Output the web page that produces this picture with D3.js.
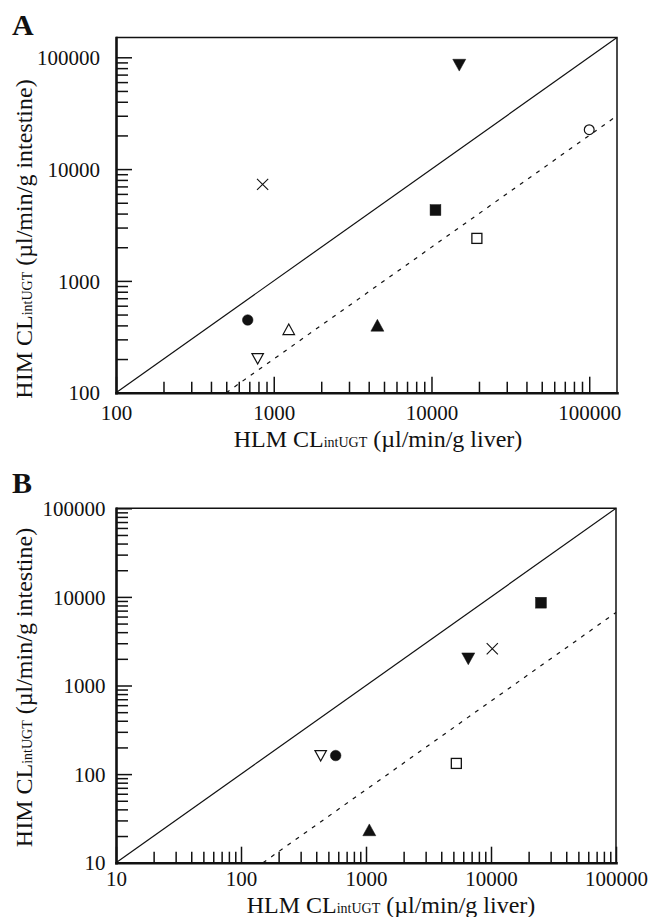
<!DOCTYPE html>
<html lang="en">
<head>
<meta charset="UTF-8">
<script src="https://d3js.org/d3.v7.min.js"></script>
<style>
  body { margin: 0; background: #fff; }
  svg { display: block; font-family: "Liberation Serif", "Times New Roman", serif; }
  .tick text { font-size: 21px; fill: #111; font-family: "Liberation Serif", serif; }
  .title { font-size: 24px; fill: #111; }
  .sub { font-size: 14px; }
  .letter { font-size: 30px; font-weight: bold; fill: #111; }
</style>
</head>
<body>
<div id="chart"></div>
<script>
// Panel A: HLM vs HIM CLint,UGT
const shapesA = ["cross", "triDownFilled", "circleOpen", "squareFilled", "squareOpen", "triUpFilled", "circleFilled", "triUpOpen", "triDownOpen"];
const hlmA = [850, 15000, 100000, 10600, 19400, 4540, 684, 1245, 791];
const himA = [7300, 85000, 22500, 4300, 2400, 401, 447, 369, 201];
const ticksA = [100, 1000, 10000, 100000];
const dashRatioA = 1 / 5;

// Panel B
const shapesB = ["squareFilled", "triDownFilled", "cross", "triDownOpen", "circleFilled", "squareOpen", "triUpFilled"];
const hlmB = [25100, 6580, 10240, 434, 572, 5280, 1063];
const himB = [8600, 2000, 2600, 161, 162, 132, 23.5];
const ticksB = [10, 100, 1000, 10000, 100000];
const dashRatioB = 1 / 15;

const panels = [
  { name: "A", shapes: shapesA, hlm: hlmA, him: himA, ticks: ticksA, ratio: dashRatioA,
    domain: [100, 150000], left: 116, right: 617, top: 37.6, bottom: 392.7,
    xLabelY: 27.5, yLabelX: 16, yTitleC: 239, xTitleC: 378, xTitleY: 446.7, letterY: 34.5 },
  { name: "B", shapes: shapesB, hlm: hlmB, him: himB, ticks: ticksB, ratio: dashRatioB,
    domain: [10, 100000], left: 116, right: 616, top: 508.3, bottom: 862.7,
    xLabelY: 23, yLabelX: 10.5, yTitleC: 687.5, xTitleC: 391, xTitleY: 912.5, letterY: 493 }
];

const svg = d3.select("#chart").append("svg")
  .attr("width", 651)
  .attr("height", 917);

const ink = "#111";

function drawMarker(g, shape, cx, cy) {
  const open = shape.endsWith("Open");
  const fill = open ? "#fff" : ink;
  if (shape.startsWith("square")) {
    const s = open ? 10 : 10.8;
    g.append("rect").attr("x", cx - s / 2).attr("y", cy - s / 2)
      .attr("width", s).attr("height", s)
      .attr("fill", fill).attr("stroke", ink).attr("stroke-width", open ? 1.3 : 0.5);
  } else if (shape.startsWith("circle")) {
    g.append("circle").attr("cx", cx).attr("cy", cy).attr("r", open ? 4.9 : 5.3)
      .attr("fill", fill).attr("stroke", ink).attr("stroke-width", open ? 1.2 : 0.5);
  } else if (shape.startsWith("tri")) {
    const w = open ? 11.5 : 13, h = open ? 10.5 : 11.8;
    const dir = shape.startsWith("triUp") ? 1 : -1;
    const pts = [[cx, cy - dir * h / 2], [cx + w / 2, cy + dir * h / 2], [cx - w / 2, cy + dir * h / 2]];
    g.append("path").attr("d", "M" + pts.join("L") + "Z")
      .attr("fill", fill).attr("stroke", ink).attr("stroke-width", open ? 1.2 : 0.5)
      .attr("stroke-linejoin", "miter");
  } else if (shape === "cross") {
    const r = 5.6;
    g.append("path")
      .attr("d", `M${cx - r},${cy - r}L${cx + r},${cy + r}M${cx - r},${cy + r}L${cx + r},${cy - r}`)
      .attr("stroke", ink).attr("stroke-width", 1.1).attr("fill", "none");
  }
}

panels.forEach(p => {
  const x = d3.scaleLog().domain(p.domain).range([p.left, p.right]);
  const y = d3.scaleLog().domain(p.domain).range([p.bottom, p.top]);

  const major = p.ticks;
  const minor = [];
  major.forEach(t => {
    for (let k = 2; k <= 9; k++) if (t * k <= p.domain[1]) minor.push(t * k);
  });
  const all = major.concat(minor);
  const isMajor = d => major.includes(d);

  const g = svg.append("g");

  // top and right frame (thin)
  g.append("path")
    .attr("d", `M${p.left},${p.top}H${p.right}V${p.bottom}`)
    .attr("fill", "none").attr("stroke", ink).attr("stroke-width", 1.5);

  // x axis
  const gx = g.append("g")
    .attr("transform", `translate(0,${p.bottom})`)
    .call(d3.axisBottom(x).tickValues(all).tickSizeOuter(0)
      .tickFormat(d => isMajor(d) ? String(d) : ""));
  gx.select(".domain").attr("stroke", ink).attr("stroke-width", 2.6).attr("stroke-linecap", "square");
  gx.selectAll(".tick line").attr("y2", d => isMajor(d) ? -16 : -11)
    .attr("stroke", ink).attr("stroke-width", 1.5);
  gx.selectAll(".tick text").attr("y", p.xLabelY).attr("dy", 0);

  // y axis
  const gy = g.append("g")
    .attr("transform", `translate(${p.left},0)`)
    .call(d3.axisLeft(y).tickValues(all).tickSizeOuter(0)
      .tickFormat(d => isMajor(d) ? String(d) : ""));
  gy.select(".domain").attr("stroke", ink).attr("stroke-width", 2.6).attr("stroke-linecap", "square");
  gy.selectAll(".tick line").attr("x2", d => isMajor(d) ? 16 : 12)
    .attr("stroke", ink).attr("stroke-width", 1.5);
  gy.selectAll(".tick text").attr("x", -p.yLabelX).attr("dy", "0.34em");

  // unity line
  const lo = p.domain[0], hi = p.domain[1];
  g.append("line")
    .attr("x1", x(lo)).attr("y1", y(lo))
    .attr("x2", x(hi)).attr("y2", y(hi))
    .attr("stroke", ink).attr("stroke-width", 1.2);

  // dashed line y = ratio * x
  const dx0 = Math.max(lo, lo / p.ratio), dx1 = Math.min(hi, hi / p.ratio);
  g.append("line")
    .attr("x1", x(dx0)).attr("y1", y(dx0 * p.ratio))
    .attr("x2", x(dx1)).attr("y2", y(dx1 * p.ratio))
    .attr("stroke", ink).attr("stroke-width", 1.2)
    .attr("stroke-dasharray", "4,6");

  // points
  p.shapes.forEach((s, i) => drawMarker(g, s, x(p.hlm[i]), y(p.him[i])));

  // panel letter
  g.append("text").attr("class", "letter").attr("x", 12).attr("y", p.letterY).text(p.name);

  // x title
  const xt = g.append("text").attr("class", "title")
    .attr("x", p.xTitleC).attr("y", p.xTitleY).attr("text-anchor", "middle");
  xt.append("tspan").text("HLM CL");
  xt.append("tspan").attr("class", "sub").text("intUGT");
  xt.append("tspan").text(" (\u00b5l/min/g liver)");

  // y title
  const yt = g.append("text").attr("class", "title")
    .attr("transform", `translate(32,${p.yTitleC}) rotate(-90)`)
    .attr("text-anchor", "middle");
  yt.append("tspan").text("HIM CL");
  yt.append("tspan").attr("class", "sub").text("intUGT");
  yt.append("tspan").text(" (\u00b5l/min/g intestine)");
});
</script>
</body>
</html>
